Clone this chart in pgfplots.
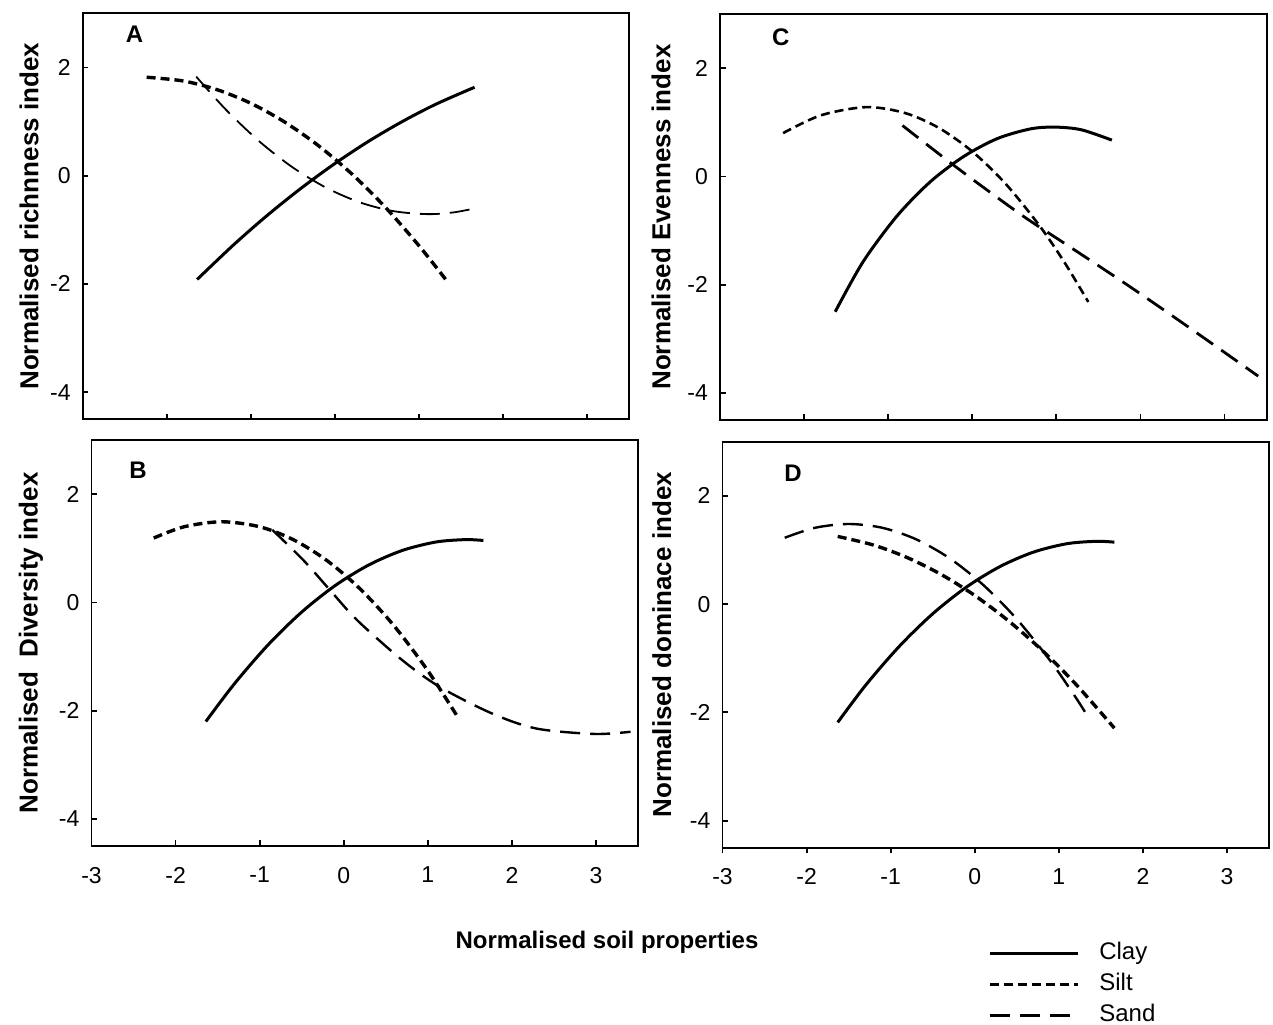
\documentclass[border=0pt]{standalone}
\usepackage{fontspec}
\setmainfont{Liberation Sans}
\usepackage{pgfplots}
\pgfplotsset{compat=1.18}

\tikzset{lab/.style={font=\bfseries\fontsize{12}{14}\selectfont}}
\pgfplotsset{
  panel/.style={
    scale only axis, width=273.3pt, height=203pt,
    xmin=-3, xmax=3.5, ymin=-4.5, ymax=3,
    xtick={-3,-2,-1,0,1,2,3}, ytick={-4,-2,0,2},
    yticklabels={-4,-2,0,2},
    tick pos=left,
    tick align=inside, major tick length=2.8pt,
    axis line style={line width=0.9pt},
    tick style={line width=0.9pt, black},
    tick label style={font=\fontsize{11.5}{13}\selectfont},
    xticklabel style={yshift=-7pt},
    yticklabel style={xshift=-2.5pt},
    every axis y label/.style={rotate=90, anchor=center, font=\bfseries\fontsize{13}{15}\selectfont},
    no markers,
  },
  clay/.style={black, line width=1.5pt, solid, smooth},
  silt/.style={black, line width=1.7pt, dash pattern=on 4.5pt off 2.5pt, smooth},
  sand/.style={black, line width=1.2pt, dash pattern=on 10pt off 5pt, smooth},
}

\begin{document}
\begin{tikzpicture}
\useasboundingbox (0,0) rectangle (636.5pt,512pt);

% ---------- A ----------
\begin{axis}[panel, at={(41.35pt,302.35pt)}, anchor=south west,
  xticklabels={},
  ylabel={Normalised richnness index},
  ylabel style={at={(axis description cs:-0.098,0.5)}}]
\addplot[clay] coordinates {(-1.64,-1.918) (-1.2,-1.269) (-0.8,-0.726) (-0.4,-0.228) (0,0.226) (0.4,0.636) (0.8,1.000) (1.2,1.321) (1.66,1.634)};
\addplot[silt] coordinates {(-2.24,1.819) (-1.8,1.749) (-1.4,1.588) (-1.0,1.337) (-0.6,0.993) (-0.2,0.559) (0.2,0.033) (0.6,-0.585) (1.0,-1.295) (1.35,-1.983)};
\addplot[sand, line width=0.9pt] coordinates {(-1.65,1.83) (-1.3,1.225) (-0.9,0.634) (-0.5,0.150) (-0.1,-0.226) (0.3,-0.495) (0.7,-0.656) (1.1,-0.71) (1.4,-0.680) (1.64,-0.612)};
\node[lab] at (rel axis cs:0.095,0.948) {A};
\end{axis}

% ---------- C ----------
\begin{axis}[panel, at={(360pt,302pt)}, anchor=south west,
  xticklabels={},
  ylabel={Normalised Evenness index},
  ylabel style={at={(axis description cs:-0.108,0.5)}}]
\addplot[clay] coordinates {(-1.63,-2.50) (-1.3,-1.58) (-0.9,-0.74) (-0.5,-0.10) (-0.1,0.37) (0.3,0.70) (0.7,0.88) (1.0,0.91) (1.3,0.86) (1.66,0.67)};
\addplot[silt, line width=1.3pt] coordinates {(-2.25,0.80) (-1.8,1.129) (-1.26,1.28) (-0.8,1.171) (-0.4,0.898) (0,0.460) (0.4,-0.143) (0.8,-0.912) (1.1,-1.597) (1.38,-2.32)};
\addplot[sand, line width=1.4pt] coordinates {(-0.83,0.94) (-0.30,0.30) (0.13,-0.20) (0.62,-0.75) (1.10,-1.24) (1.82,-1.98) (2.54,-2.75) (3.40,-3.69)};
\node[lab] at (rel axis cs:0.111,0.943) {C};
\end{axis}

% ---------- B ----------
\begin{axis}[panel, at={(45.75pt,89pt)}, anchor=south west,
  xticklabels={-3,-2,-1,0,1,2,3},
  ylabel={Normalised~ Diversity index},
  ylabel style={at={(axis description cs:-0.111,0.5)}}]
\addplot[clay] coordinates {(-1.64,-2.20) (-1.3,-1.502) (-0.9,-0.784) (-0.5,-0.178) (-0.1,0.314) (0.3,0.694) (0.7,0.962) (1.1,1.117) (1.45,1.16) (1.66,1.144)};
\addplot[silt] coordinates {(-2.26,1.189) (-1.9,1.397) (-1.45,1.49) (-1.0,1.397) (-0.6,1.159) (-0.2,0.773) (0.2,0.241) (0.6,-0.437) (1.0,-1.263) (1.34,-2.08)};
\addplot[sand] coordinates {(-0.85,1.34) (-0.48,0.78) (-0.16,0.22) (0.16,-0.33) (0.69,-1.06) (1.14,-1.56) (1.76,-2.05) (2.29,-2.33) (2.98,-2.43) (3.41,-2.39)};
\node[lab] at (rel axis cs:0.085,0.926) {B};
\end{axis}

% ---------- D ----------
\begin{axis}[panel, at={(361.25pt,88.15pt)}, anchor=south west,
  xticklabels={-3,-2,-1,0,1,2,3},
  every major x tick/.append style={yshift=-2.8pt},
  ylabel={Normalised dominace index},
  ylabel style={at={(axis description cs:-0.111,0.5)}},
  legend image code/.code={\draw[#1] (0pt,0pt) -- (44pt,0pt);},
  legend style={at={(axis description cs:0.4856,-0.2298)}, anchor=north west,
    draw=none, fill=none, inner sep=0pt, outer sep=0pt,
    font=\fontsize{12}{14}\selectfont,
    nodes={inner sep=0pt, text height=9pt, text depth=3pt},
    row sep=3.6pt, column sep=10pt},
  legend cell align=left]
\addplot[clay] coordinates {(-1.63,-2.185) (-1.3,-1.502) (-0.9,-0.784) (-0.5,-0.178) (-0.1,0.314) (0.3,0.694) (0.7,0.962) (1.1,1.117) (1.45,1.16) (1.66,1.144)};
\addlegendentry{Clay}
\addplot[silt] coordinates {(-1.63,1.250) (-1.2,1.089) (-0.8,0.857) (-0.4,0.548) (0,0.159) (0.4,-0.308) (0.8,-0.853) (1.2,-1.477) (1.66,-2.291)};
\addlegendentry{Silt}
\addplot[sand] coordinates {(-2.26,1.226) (-1.9,1.410) (-1.5,1.48) (-1.1,1.410) (-0.7,1.199) (-0.3,0.847) (0.1,0.355) (0.5,-0.278) (0.9,-1.052) (1.2,-1.724) (1.37,-2.14)};
\addlegendentry{Sand}
\node[lab] at (rel axis cs:0.129,0.922) {D};
\end{axis}

\node[font=\bfseries\fontsize{12}{14}\selectfont] at (303.5pt,41pt) {Normalised soil properties};
\end{tikzpicture}
\end{document}
